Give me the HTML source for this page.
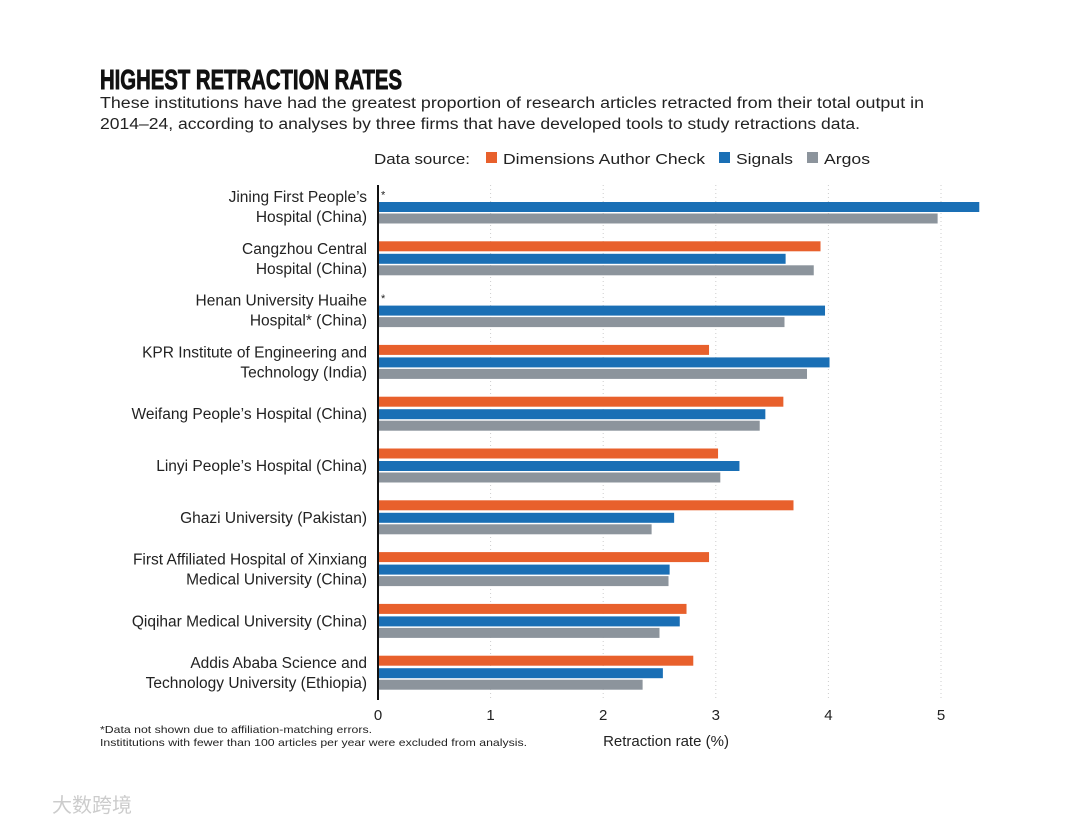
<!DOCTYPE html>
<html><head><meta charset="utf-8">
<style>
body{margin:0;background:#fff;width:1080px;height:825px;overflow:hidden;font-family:"Liberation Sans",sans-serif;}
svg text{font-family:"Liberation Sans",sans-serif;}
</style></head>
<body>
<svg id="chart" width="1080" height="825">
<text x="100" y="89" font-size="28" font-weight="900" fill="#111" stroke="#111" stroke-width="0.9" textLength="302" lengthAdjust="spacingAndGlyphs">HIGHEST RETRACTION RATES</text>
<text x="100" y="108" font-size="15.5" fill="#222" textLength="824" lengthAdjust="spacingAndGlyphs">These institutions have had the greatest proportion of research articles retracted from their total output in</text>
<text x="100" y="129" font-size="15.5" fill="#222" textLength="760" lengthAdjust="spacingAndGlyphs">2014–24, according to analyses by three firms that have developed tools to study retractions data.</text>
<g>
<text x="374" y="164" font-size="15" fill="#222" textLength="96" lengthAdjust="spacingAndGlyphs">Data source:</text>
<rect x="486" y="152" width="11" height="11" fill="#e8602c"/>
<text x="503" y="164" font-size="15" fill="#222" textLength="202" lengthAdjust="spacingAndGlyphs">Dimensions Author Check</text>
<rect x="719" y="152" width="11" height="11" fill="#1a6fb5"/>
<text x="736" y="164" font-size="15" fill="#222" textLength="57" lengthAdjust="spacingAndGlyphs">Signals</text>
<rect x="807" y="152" width="11" height="11" fill="#8c949c"/>
<text x="824" y="164" font-size="15" fill="#222" textLength="46" lengthAdjust="spacingAndGlyphs">Argos</text>
</g>
<g id="plot"></g>
<text x="100" y="733" font-size="10.5" fill="#222" textLength="272" lengthAdjust="spacingAndGlyphs">*Data not shown due to affiliation-matching errors.</text>
<text x="100" y="746" font-size="10.5" fill="#222" textLength="427" lengthAdjust="spacingAndGlyphs">Instititutions with fewer than 100 articles per year were excluded from analysis.</text>
<text x="666" y="746" font-size="15" fill="#222" text-anchor="middle">Retraction rate (%)</text>
<text x="52" y="812" font-size="20" fill="#ccc" font-family="'Noto Sans CJK SC',sans-serif">大数跨境</text>
</svg>
<script>
const categories=[["Jining First People’s","Hospital (China)"],["Cangzhou Central","Hospital (China)"],["Henan University Huaihe","Hospital* (China)"],["KPR Institute of Engineering and","Technology (India)"],["Weifang People’s Hospital (China)"],["Linyi People’s Hospital (China)"],["Ghazi University (Pakistan)"],["First Affiliated Hospital of Xinxiang","Medical University (China)"],["Qiqihar Medical University (China)"],["Addis Ababa Science and","Technology University (Ethiopia)"]];
const dimensions=[null,3.93,null,2.94,3.6,3.02,3.69,2.94,2.74,2.8];
const signals=[5.34,3.62,3.97,4.01,3.44,3.21,2.63,2.59,2.68,2.53];
const argos=[4.97,3.87,3.61,3.81,3.39,3.04,2.43,2.58,2.5,2.35];
const ticks=[0,1,2,3,4,5];
const NS="http://www.w3.org/2000/svg";
const g=document.getElementById('plot');
const x=v=>378+v*112.6;
const y=i=>207+i*51.8;
function mk(t,a){const e=document.createElementNS(NS,t);for(const k in a)e.setAttribute(k,a[k]);g.appendChild(e);return e;}
ticks.forEach(t=>{
 if(t>0){const l=mk('line',{x1:x(t),x2:x(t),y1:185,y2:698,stroke:'#ccc','stroke-dasharray':'1,3'});
 
 }
 const tx=mk('text',{x:x(t),y:720,'font-size':15,fill:'#222','text-anchor':'middle'});tx.textContent=t;
 
 
});
const series=[[dimensions,'#e8602c',-12.5,'dimensions'],[signals,'#1a6fb5',0,'signals'],[argos,'#8c949c',11.5,'argos']];
categories.forEach((c,i)=>{
 const cy=y(i);
 series.forEach(([arr,col,off,nm])=>{
  if(arr[i]==null){
   const s=mk('text',{x:381,y:cy+off+4,'font-size':11,fill:'#222'});s.textContent='*';
   
   
   return;}
  const r=mk('rect',{x:x(0),y:cy+off-5,width:x(arr[i])-x(0),height:10,fill:col});
  
  
 });
 c.forEach((line,j)=>{
  const ly=c.length==2?cy-5+j*20:cy+5;
  const t=mk('text',{x:367,y:ly,'font-size':15.5,fill:'#222','text-anchor':'end'});t.textContent=line;
  
  
 });
});
const ax=mk('line',{x1:378,x2:378,y1:185,y2:700,stroke:'#111','stroke-width':2});


</script>
</body></html>
